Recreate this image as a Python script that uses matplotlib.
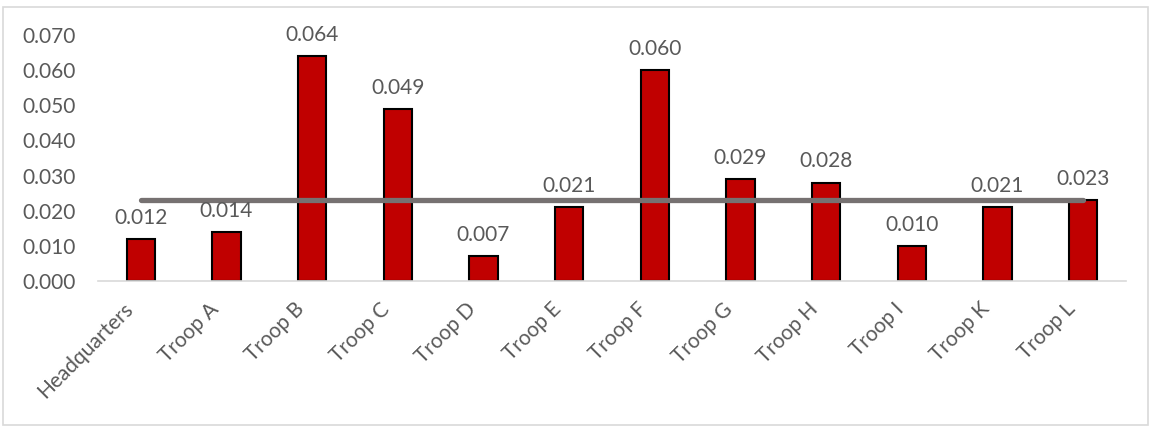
import matplotlib.pyplot as plt
from matplotlib import rcParams
from matplotlib.patches import Rectangle
from matplotlib.transforms import ScaledTranslation

rcParams['font.family'] = ['Lato', 'DejaVu Sans']

units = ['Headquarters', 'Troop A', 'Troop B', 'Troop C', 'Troop D', 'Troop E',
         'Troop F', 'Troop G', 'Troop H', 'Troop I', 'Troop K', 'Troop L']
rates = [0.012, 0.014, 0.064, 0.049, 0.007, 0.021, 0.060, 0.029, 0.028, 0.010, 0.021, 0.023]
average = [0.023] * len(units)

text_grey = '#595959'
fsize = 15

fig = plt.figure(figsize=(11.51, 4.28), dpi=100)
fig.patches.append(Rectangle((0.003, 0.006), 0.994, 0.978, transform=fig.transFigure,
                             fill=False, edgecolor='#D9D9D9', linewidth=1.2))
ax = fig.add_axes([98 / 1151, 1 - 281 / 428, (1126 - 98) / 1151, (281 - 35) / 428])

x = list(range(len(units)))
ax.bar(x, rates, width=0.33, color='#C00000', edgecolor='black', linewidth=1.5, zorder=2)
ax.plot(x, average, color='#767171', linewidth=3.8, solid_capstyle='round', zorder=3)

for xi, v in zip(x, rates):
    ax.annotate(f'{v:.3f}', (xi, v), xytext=(0, 8), textcoords='offset points',
                ha='center', va='bottom', fontsize=fsize, color=text_grey, zorder=4)

ax.set_xlim(-0.5, len(units) - 0.5)
ax.set_ylim(0, 0.07)
ax.set_yticks([i / 100 for i in range(8)])
ax.set_yticklabels([f'{i / 100:.3f}' for i in range(8)])
ax.set_xticks(x)
ax.set_xticklabels(units, rotation=45, ha='right', rotation_mode='anchor')
ax.tick_params(axis='both', length=0, labelsize=fsize, labelcolor=text_grey)
ax.tick_params(axis='y', pad=16)
ax.tick_params(axis='x', pad=10)

# shift the slanted labels a little left, like Excel places them
shift = ScaledTranslation(-18 / 100, -4 / 100, fig.dpi_scale_trans)
for lbl in ax.get_xticklabels():
    lbl.set_transform(lbl.get_transform() + shift)

for side in ['top', 'right', 'left']:
    ax.spines[side].set_visible(False)
ax.spines['bottom'].set_color('#D9D9D9')
ax.spines['bottom'].set_linewidth(1.2)

fig.savefig('out.png', dpi=100)
